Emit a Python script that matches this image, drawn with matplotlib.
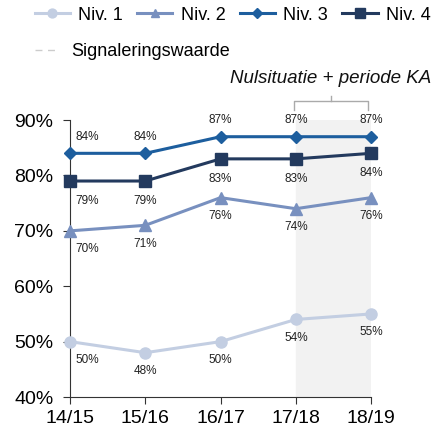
import matplotlib.pyplot as plt
from matplotlib.lines import Line2D
import numpy as np

plt.rcParams['font.family'] = ['Liberation Sans', 'DejaVu Sans']

jaren = ['14/15', '15/16', '16/17', '17/18', '18/19']
niv1 = [50, 48, 50, 54, 55]
niv2 = [70, 71, 76, 74, 76]
niv3 = [84, 84, 87, 87, 87]
niv4 = [79, 79, 83, 83, 84]

kleuren = ['#c3cee2', '#7890bf', '#1d5e9e', '#233a5e']
markers = ['o', '^', 'D', 's']
msizes = [8, 8, 6, 9]
namen = ['Niv. 1', 'Niv. 2', 'Niv. 3', 'Niv. 4']

fig = plt.figure(figsize=(4.35, 4.32), dpi=100)
ax = fig.add_axes([0.161, 0.081, 0.692, 0.641])
x = np.arange(len(jaren))

# grijze band voor nulsituatie + periode KA
ax.axvspan(3, 4, color='#f2f2f2', zorder=0)

reeksen = [niv1, niv2, niv3, niv4]
for s, kl, m, ms in zip(reeksen, kleuren, markers, msizes):
    ax.plot(x, s, color=kl, lw=2.2, marker=m, ms=ms, zorder=3, clip_on=False)

def labels(vals, dy, shift_first=True):
    for i, v in enumerate(vals):
        xi = i + (0.23 if (i == 0 and shift_first) else 0)
        ax.text(xi, v + dy, '%d%%' % v, ha='center', va='center', fontsize=8.5, color='#222222')

labels(niv1, -3.3)
labels(niv2, -3.3)
labels(niv3, 3.0)
labels(niv4, -3.6)

ax.set_xlim(0, 4)
ax.set_ylim(40, 90)
ax.set_xticks(x)
ax.set_xticklabels(jaren, fontsize=14)
ax.set_yticks(range(40, 91, 10))
ax.set_yticklabels(['%d%%' % v for v in range(40, 91, 10)], fontsize=14)
for sp in ['top', 'right']:
    ax.spines[sp].set_visible(False)
ax.spines['left'].set_color('#333333')
ax.spines['bottom'].set_color('#333333')
ax.tick_params(axis='y', direction='out', length=5, color='#333333', pad=7)
ax.tick_params(axis='x', direction='out', length=5, color='#333333', pad=4)

# accolade boven de band
bx0, bx1, by = 2.97, 3.96, 91.8
bh = 1.6
ax.plot([bx0, bx0, bx1, bx1], [by, by + bh, by + bh, by], color='#aaaaaa', lw=1, clip_on=False,
        solid_joinstyle='round')
ax.plot([3.465, 3.465], [by + bh, by + bh + 0.9], color='#aaaaaa', lw=1, clip_on=False)
ax.text(3.465, 97.6, 'Nulsituatie + periode KA', ha='center', va='center',
        fontsize=13.5, style='italic', color='#111111', clip_on=False)

# legenda
handles = [Line2D([], [], color=kl, lw=2.2, marker=m, ms=ms * 0.8)
           for kl, m, ms in zip(kleuren, markers, msizes)]
fig.legend(handles, namen, loc='upper left', bbox_to_anchor=(0.055, 1.01), ncol=4,
           frameon=False, fontsize=13, handlelength=1.95, handletextpad=0.45,
           columnspacing=0.8, borderaxespad=0.2)
sig = Line2D([], [], color='#cccccc', lw=1, ls=(0, (5, 4)))
fig.legend([sig], ['Signaleringswaarde'], loc='upper left', bbox_to_anchor=(0.055, 0.925),
           frameon=False, fontsize=13, handlelength=1.4, handletextpad=0.6,
           borderaxespad=0.2)

plt.savefig('out.png', dpi=100)
